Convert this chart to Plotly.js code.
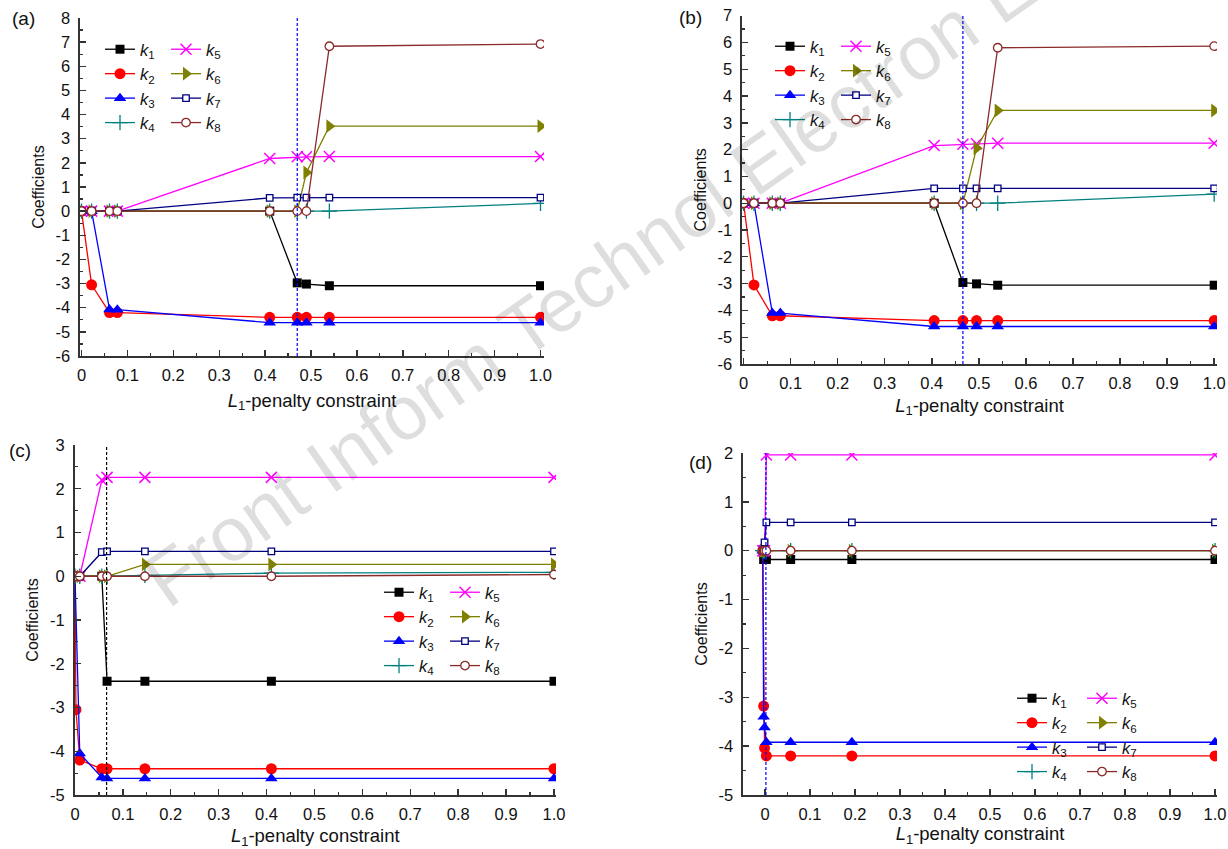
<!DOCTYPE html>
<html><head><meta charset="utf-8">
<script src="https://cdn.plot.ly/plotly-3.0.1.min.js"></script>
<style>html,body{margin:0;padding:0;background:#fff}#chart{width:1228px;height:849px}</style>
</head><body><div id="chart"></div>
<script>
// ---------- data ----------
const seriesLabels = ['<i>k</i><sub>1</sub>','<i>k</i><sub>2</sub>','<i>k</i><sub>3</sub>','<i>k</i><sub>4</sub>',
                      '<i>k</i><sub>5</sub>','<i>k</i><sub>6</sub>','<i>k</i><sub>7</sub>','<i>k</i><sub>8</sub>'];

// Panel (a)
const xA = [0, 0.022, 0.061, 0.078, 0.41, 0.47, 0.49, 0.54, 1.0];
const a_k1 = [0, 0, 0, 0, 0, -2.97, -3.02, -3.09, -3.09];
const a_k2 = [0, -3.05, -4.2, -4.2, -4.4, -4.4, -4.4, -4.4, -4.4];
const a_k3 = [0, 0, -4.07, -4.08, -4.62, -4.62, -4.62, -4.62, -4.62];
const a_k4 = [0, 0, 0, 0, 0, 0, 0, 0, 0.32];
const a_k5 = [0, 0, 0, 0, 2.18, 2.25, 2.25, 2.26, 2.26];
const a_k6 = [0, 0, 0, 0, 0, 0, 1.6, 3.52, 3.52];
const a_k7 = [0, 0, 0, 0, 0.55, 0.56, 0.56, 0.56, 0.56];
const a_k8 = [0, 0, 0, 0, 0, 0, 0, 6.83, 6.92];

// Panel (b)
const xB = [0, 0.022, 0.061, 0.078, 0.405, 0.466, 0.495, 0.54, 1.0];
const b_k1 = [0, 0, 0, 0, 0, -2.96, -3.01, -3.06, -3.06];
const b_k2 = [0, -3.05, -4.2, -4.2, -4.38, -4.38, -4.38, -4.38, -4.38];
const b_k3 = [0, 0, -4.1, -4.1, -4.6, -4.6, -4.6, -4.6, -4.6];
const b_k4 = [0, 0, 0, 0, 0, 0, 0, 0, 0.34];
const b_k5 = [0, 0, 0, 0, 2.15, 2.2, 2.22, 2.24, 2.24];
const b_k6 = [0, 0, 0, 0, 0, 0, 2.05, 3.46, 3.46];
const b_k7 = [0, 0, 0, 0, 0.55, 0.55, 0.55, 0.55, 0.55];
const b_k8 = [0, 0, 0, 0, 0, 0, 0, 5.8, 5.86];

// Panel (c)
const xC = [0, 0.002, 0.01, 0.056, 0.067, 0.146, 0.41, 1.0];
const c_k1 = [0, null, 0, 0, -2.4, -2.4, -2.4, -2.4];
const c_k2 = [0, -3.05, -4.2, -4.4, -4.4, -4.4, -4.4, -4.4];
const c_k3 = [0, null, -4.05, -4.6, -4.62, -4.62, -4.62, -4.62];
const c_k4 = [0, null, 0, 0, 0, 0.02, 0.07, 0.09];
const c_k5 = [0, null, 0, 2.2, 2.26, 2.26, 2.26, 2.26];
const c_k6 = [0, null, 0, 0, 0, 0.27, 0.27, 0.27];
const c_k7 = [0, null, 0, 0.55, 0.57, 0.57, 0.57, 0.57];
const c_k8 = [0, null, 0, 0, 0, 0, 0, 0.04];

// Panel (d)
const xD = [-0.005, -0.003, -0.001, 0.003, 0.057, 0.193, 1.0];
const d_k1 = [null, -0.18, -0.18, -0.18, -0.18, -0.18, -0.18];
const d_k2 = [0, -3.18, -4.04, -4.2, -4.2, -4.2, -4.2];
const d_k3 = [0, -3.4, -3.62, -3.92, -3.92, -3.92, -3.92];
const d_k4 = [0, 0, 0, 0, 0, 0, 0];
const d_k5 = [0, 0, 0, 1.96, 1.96, 1.96, 1.96];
const d_k6 = [0, 0, 0, 0, 0, 0, 0];
const d_k7 = [0, 0, 0.17, 0.58, 0.58, 0.58, 0.58];
const d_k8 = [0, 0, 0, 0, 0, 0, 0];

// vertical reference (cut-off) lines, one per panel
const cutoffX = [0.47, 0.466, 0.066, 0.002];
const cutoffColor = ['#0000ff', '#0000ff', '#000000', '#0000ff'];

// tick labels
const xTickVals = [0, 0.1, 0.2, 0.3, 0.4, 0.5, 0.6, 0.7, 0.8, 0.9, 1.0];
const xTickText = ['0', '0.1', '0.2', '0.3', '0.4', '0.5', '0.6', '0.7', '0.8', '0.9', '1.0'];
const yTickValsA = [-6, -5, -4, -3, -2, -1, 0, 1, 2, 3, 4, 5, 6, 7, 8];
const yTickValsB = [-6, -5, -4, -3, -2, -1, 0, 1, 2, 3, 4, 5, 6, 7];
const yTickValsC = [-5, -4, -3, -2, -1, 0, 1, 2, 3];
const yTickValsD = [-5, -4, -3, -2, -1, 0, 1, 2];

const panelLabels = ['(a)', '(b)', '(c)', '(d)'];
const xTitle = '<i>L</i><sub>1</sub>-penalty constraint';
const yTitle = 'Coefficients';
const watermark = 'Front Inform Technol Electron Eng';

// ---------- styles ----------
const FONT = 'Liberation Sans, Arial, sans-serif';
const colors = ['#000000', '#ff0000', '#0000ff', '#008080', '#ff00ff', '#808000', '#000080', '#8b2a2a'];
const markers = [
  {symbol: 'square', size: 9, color: colors[0]},
  {symbol: 'circle', size: 11, color: colors[1]},
  {symbol: 'triangle-up', size: 11, color: colors[2]},
  {symbol: 'cross-thin', size: 11, color: colors[3], line: {color: colors[3], width: 1.3}},
  {symbol: 'x-thin', size: 11, color: colors[4], line: {color: colors[4], width: 1.5}},
  {symbol: 'triangle-right', size: 12, color: colors[5]},
  {symbol: 'square', size: 6.5, color: '#ffffff', line: {color: colors[6], width: 1.3}},
  {symbol: 'circle', size: 8.5, color: '#ffffff', line: {color: colors[7], width: 1.3}}
];

const W = 1228, H = 849;
const px = v => v / W;
const py = v => 1 - v / H;

const panels = [
  {x: xA, ys: [a_k1, a_k2, a_k3, a_k4, a_k5, a_k6, a_k7, a_k8], ax: 'x', ay: 'y'},
  {x: xB, ys: [b_k1, b_k2, b_k3, b_k4, b_k5, b_k6, b_k7, b_k8], ax: 'x2', ay: 'y2'},
  {x: xC, ys: [c_k1, c_k2, c_k3, c_k4, c_k5, c_k6, c_k7, c_k8], ax: 'x3', ay: 'y3'},
  {x: xD, ys: [d_k1, d_k2, d_k3, d_k4, d_k5, d_k6, d_k7, d_k8], ax: 'x4', ay: 'y4'}
];

const traces = [];
panels.forEach((p, pi) => {
  p.ys.forEach((y, si) => {
    const legIdx = pi * 2 + (si < 4 ? 1 : 2);
    traces.push({
      type: 'scatter', mode: 'lines+markers',
      x: p.x, y: y, xaxis: p.ax, yaxis: p.ay,
      connectgaps: true,
      name: seriesLabels[si],
      legend: legIdx === 1 ? 'legend' : 'legend' + legIdx,
      line: {color: colors[si], width: 1.3},
      marker: markers[si],
      hoverinfo: 'skip'
    });
  });
});

function xAxis(domainPx, range, anchor, standoff) {
  return {
    domain: [px(domainPx[0]), px(domainPx[1])], range: range, anchor: anchor,
    showline: true, linecolor: '#333', linewidth: 1.6, mirror: false,
    ticks: 'inside', ticklen: 6, tickwidth: 1.4, tickcolor: '#333',
    tickmode: 'array', tickvals: xTickVals, ticktext: xTickText,
    minor: {ticks: 'inside', ticklen: 3, tickwidth: 1.2, tickcolor: '#333', dtick: 0.05, tick0: 0, showgrid: false},
    ticklabelstandoff: 4,
    showgrid: false, zeroline: false,
    tickfont: {family: FONT, size: 16.5, color: '#111'},
    title: {text: xTitle, font: {family: FONT, size: 18.5, color: '#111'}, standoff: standoff}
  };
}
function yAxis(domainPx, range, anchor, tickvals, standoff) {
  return {
    domain: [py(domainPx[1]), py(domainPx[0])], range: range, anchor: anchor,
    showline: true, linecolor: '#333', linewidth: 1.6, mirror: false,
    ticks: 'inside', ticklen: 6, tickwidth: 1.4, tickcolor: '#333',
    tickmode: 'array', tickvals: tickvals, ticktext: tickvals.map(v => String(v)),
    minor: {ticks: 'inside', ticklen: 3, tickwidth: 1.2, tickcolor: '#333', dtick: 0.5, tick0: 0, showgrid: false},
    ticklabelstandoff: 5,
    showgrid: false, zeroline: false,
    tickfont: {family: FONT, size: 16.5, color: '#111'},
    title: {text: yTitle, font: {family: FONT, size: 16, color: '#111'}, standoff: standoff}
  };
}

function legendAt(xp, yp) {
  return {x: px(xp), y: py(yp), xanchor: 'left', yanchor: 'top', bgcolor: 'rgba(0,0,0,0)',
          borderwidth: 0, tracegroupgap: 0, font: {family: FONT, size: 16.5, color: '#111'},
          itemclick: false, itemdoubleclick: false};
}

function note(text, xp, yp, size, extra) {
  return Object.assign({text: text, xref: 'paper', yref: 'paper', x: px(xp), y: py(yp),
    xanchor: 'center', yanchor: 'middle', showarrow: false,
    font: {family: FONT, size: size, color: '#111'}}, extra || {});
}

const layout = {
  width: W, height: H, margin: {l: 0, r: 0, t: 0, b: 0},
  paper_bgcolor: '#fff', plot_bgcolor: '#fff', showlegend: true,
  font: {family: FONT, color: '#111'},
  xaxis:  xAxis([80, 544], [-0.0033, 1.0076], 'y', 10),
  yaxis:  yAxis([18, 356], [-6, 8], 'x', yTickValsA, 7),
  xaxis2: xAxis([742, 1217], [-0.0034, 1.006], 'y2', 7),
  yaxis2: yAxis([15.6, 364], [-6, 7], 'x2', yTickValsB, 7),
  xaxis3: xAxis([74.5, 556], [-0.001, 1.0042], 'y3', 10),
  yaxis3: yAxis([445, 795], [-5, 3], 'x3', yTickValsC, 7),
  xaxis4: xAxis([743, 1217], [-0.0489, 1.0044], 'y4', 2),
  yaxis4: yAxis([453, 795], [-5, 2], 'x4', yTickValsD, 7),
  legend:  legendAt(100, 32),
  legend2: legendAt(166, 32),
  legend3: legendAt(770, 29),
  legend4: legendAt(836, 29),
  legend5: legendAt(379, 575),
  legend6: legendAt(445, 575),
  legend7: legendAt(1012, 681),
  legend8: legendAt(1082, 681),
  shapes: cutoffX.map((xv, i) => ({
    type: 'line', xref: i === 0 ? 'x' : 'x' + (i + 1), yref: (i === 0 ? 'y' : 'y' + (i + 1)) + ' domain',
    x0: xv, x1: xv, y0: 0, y1: 1,
    line: {color: cutoffColor[i], width: 1.2, dash: '3px,2px'}
  })),
  annotations: [
    note(watermark, 625, 258, 76, {textangle: -35, font: {family: FONT, size: 76, color: 'rgba(0,0,0,0.13)'}}),
    note(panelLabels[0], 23, 18, 19),
    note(panelLabels[1], 690, 17, 19),
    note(panelLabels[2], 20, 450, 19),
    note(panelLabels[3], 700, 462, 19)
  ]
};

Plotly.newPlot('chart', traces, layout, {displayModeBar: false, staticPlot: true});
</script>
</body></html>
